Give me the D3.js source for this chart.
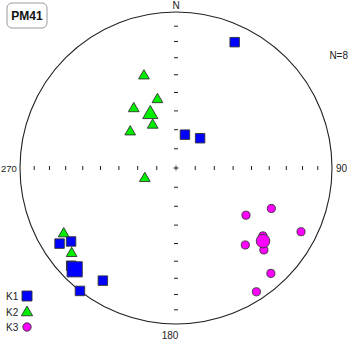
<!DOCTYPE html>
<html>
<head>
<meta charset="utf-8">
<script src="https://cdn.jsdelivr.net/npm/d3@7"></script>
<style>
  html, body { margin: 0; padding: 0; background: #fff; }
  svg { display: block; }
  text { font-family: Arial, "Liberation Sans", sans-serif; }
</style>
</head>
<body>
<svg id="net" width="358" height="360"></svg>
<script>
// Specimen principal axes as [declination, inclination] in degrees, lower hemisphere
const k1 = [[25, 12], [15, 72], [39, 70], [237, 12], [235, 19], [227, 9], [213, 15], [218, 0]];
const k2 = [[341, 37], [345, 52], [325, 51], [332, 64], [309, 59], [253, 73], [240, 18], [231, 15]];
const k3 = [[124, 45], [113, 34], [117, 11], [138, 34], [128, 30], [133, 24], [138, 10], [147, 6]];
// Mean directions of each axis
const k1Mean = [225, 9];
const k2Mean = [335, 58];
const k3Mean = [130, 28];

const siteName = "PM41";
const countLabel = "N=8";
const directionLabels = ["N", "90", "180", "270"];
const tickInclinations = [10, 20, 30, 40, 50, 60, 70, 80];
const legendNames = ["K1", "K2", "K3"];

const cx = 176, cy = 168, R = 156;
const svg = d3.select("#net");

// Equal-area (Schmidt) radial distance: 2*sin(colatitude/2), 0..sqrt(2)
const radial = d3.scaleLinear().domain([0, Math.SQRT2]).range([0, R]);
const rad = d => d * Math.PI / 180;
function project([dec, inc]) {
  const r = radial(2 * Math.sin(rad(90 - inc) / 2));
  return [cx + r * Math.sin(rad(dec)), cy - r * Math.cos(rad(dec))];
}

// Primitive circle
svg.append("circle")
  .attr("cx", cx).attr("cy", cy).attr("r", R)
  .attr("fill", "none").attr("stroke", "#222").attr("stroke-width", 1.1);

// Axis ticks every 10 degrees of inclination along N, E, S, W
const ticks = svg.append("g").attr("stroke", "#222").attr("stroke-width", 1);
[0, 90, 180, 270].forEach(az => {
  tickInclinations.forEach(inc => {
    const [x, y] = project([az, inc]);
    if (az === 0 || az === 180) {
      ticks.append("line").attr("x1", x - 2).attr("x2", x + 2).attr("y1", y).attr("y2", y);
    } else {
      ticks.append("line").attr("x1", x).attr("x2", x).attr("y1", y - 2).attr("y2", y + 2);
    }
  });
});
// Centre cross
ticks.append("line").attr("x1", cx - 2.5).attr("x2", cx + 2.5).attr("y1", cy).attr("y2", cy);
ticks.append("line").attr("x1", cx).attr("x2", cx).attr("y1", cy - 2.5).attr("y2", cy + 2.5);

// Direction labels
const labelPos = [
  { x: cx, y: 9, anchor: "middle", size: 10 },
  { x: cx + R + 4, y: cy + 4, anchor: "start", size: 10 },
  { x: cx - 6, y: cy + R + 15, anchor: "middle", size: 10 },
  { x: 1, y: cy + 4, anchor: "start", size: 9.5 }
];
directionLabels.forEach((t, i) => {
  svg.append("text")
    .attr("x", labelPos[i].x).attr("y", labelPos[i].y)
    .attr("text-anchor", labelPos[i].anchor)
    .attr("font-size", labelPos[i].size).attr("fill", "#222")
    .text(t);
});

// Site name box
svg.append("rect")
  .attr("x", 7).attr("y", 3).attr("width", 40).attr("height", 25)
  .attr("rx", 5).attr("ry", 5)
  .attr("fill", "#fff").attr("stroke", "#9a9a9a").attr("stroke-width", 1);
svg.append("text")
  .attr("x", 27).attr("y", 20).attr("text-anchor", "middle")
  .attr("font-size", 12).attr("font-weight", "bold").attr("fill", "#111")
  .text(siteName);

svg.append("text")
  .attr("x", 348).attr("y", 59).attr("text-anchor", "end")
  .attr("font-size", 10).attr("fill", "#222")
  .text(countLabel);

// Marker shapes
const styles = {
  K1: { type: d3.symbolSquare, fill: "#0000ff" },
  K2: { type: d3.symbolTriangle, fill: "#00ee00" },
  K3: { type: d3.symbolCircle, fill: "#ff00ff" }
};
const sizes = {
  K1: { small: 90, big: 230 },
  K2: { small: 50, big: 100 },
  K3: { small: 52, big: 145 }
};

function drawSet(g, data, key, size) {
  g.selectAll(null).data(data).enter().append("path")
    .attr("d", d3.symbol().type(styles[key].type).size(size))
    .attr("transform", d => {
      const [x, y] = project(d);
      const dy = key === "K2" ? 1.3 * Math.sqrt(size) / 10 : 0;
      return `translate(${x},${y + dy})`;
    })
    .attr("fill", styles[key].fill)
    .attr("stroke", "#333").attr("stroke-width", 0.9);
}

const marks = svg.append("g");
drawSet(marks, k1, "K1", sizes.K1.small);
drawSet(marks, k2, "K2", sizes.K2.small);
drawSet(marks, k3, "K3", sizes.K3.small);
drawSet(marks, [k1Mean], "K1", sizes.K1.big);
drawSet(marks, [k2Mean], "K2", sizes.K2.big);
drawSet(marks, [k3Mean], "K3", sizes.K3.big);

// Legend
const legend = svg.append("g");
legendNames.forEach((name, i) => {
  const y = 296 + i * 15.5;
  legend.append("text")
    .attr("x", 6).attr("y", y + 4)
    .attr("font-size", 10).attr("fill", "#222")
    .text(name);
  legend.append("path")
    .attr("d", d3.symbol().type(styles[name].type).size(name === "K1" ? 100 : 55))
    .attr("transform", `translate(27,${y + (name === "K2" ? 1 : 0)})`)
    .attr("fill", styles[name].fill)
    .attr("stroke", "#333").attr("stroke-width", 0.9);
});
</script>
</body>
</html>
